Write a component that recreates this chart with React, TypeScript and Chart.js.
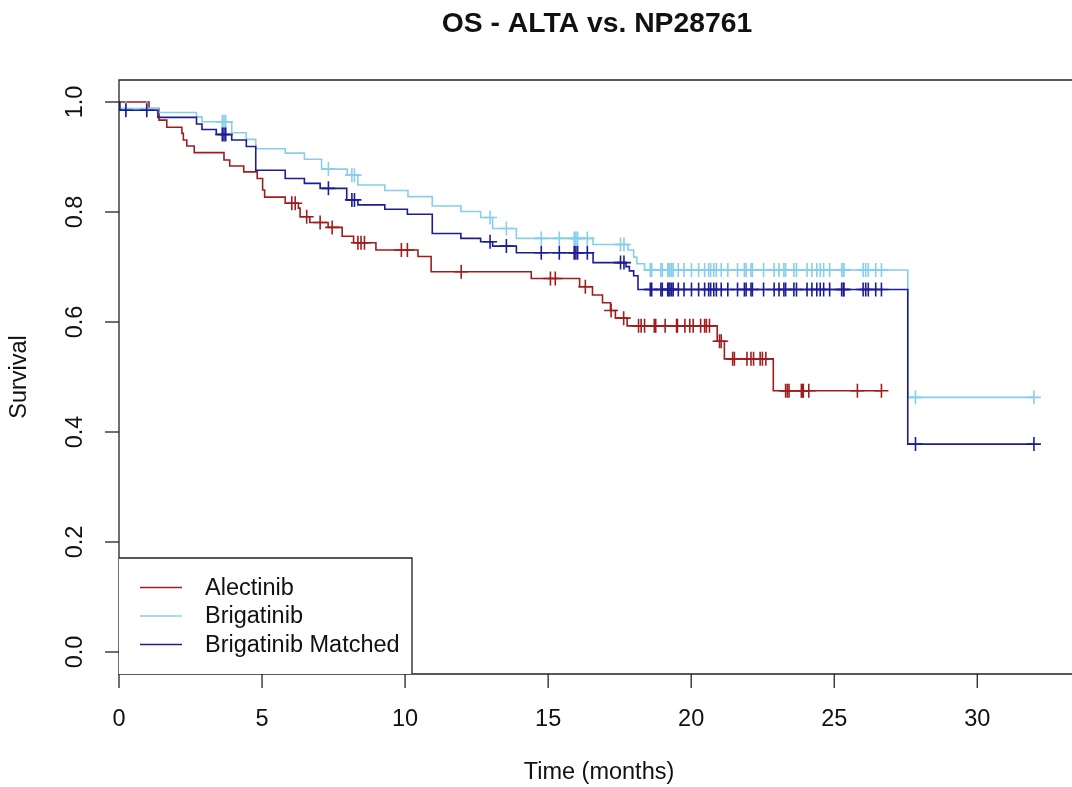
import { useEffect, useRef } from "react";
import { Chart, registerables } from "chart.js";

Chart.register(...registerables);

const FONT = '"Liberation Sans", Arial, Helvetica, sans-serif';

const chartTitle = "OS - ALTA vs. NP28761";
const xAxisTitle = "Time (months)";
const yAxisTitle = "Survival";
const xTicks = [0, 5, 10, 15, 20, 25, 30];
const yTicks = [0, 0.2, 0.4, 0.6, 0.8, 1.0];
const yTickLabels = ["0.0", "0.2", "0.4", "0.6", "0.8", "1.0"];
const seriesNames = ["Alectinib", "Brigatinib", "Brigatinib Matched"];
const seriesColors = ["#A11D1D", "#87CEEB", "#1C1C96"];

// Alectinib
const alecTimes = [0, 1.05, 1.4, 1.67, 2.2, 2.25, 2.37, 2.63, 3.67, 3.87, 4.36, 4.83, 5.02, 5.09, 5.81, 6.27, 6.33, 6.67, 7.31, 7.8, 8.2, 8.98, 10.45, 10.91, 14.41, 16.1, 16.55, 16.9, 17.18, 17.35, 17.76, 20.91, 21.16, 22.87];
const alecSurv = [1.0, 0.988, 0.967, 0.954, 0.943, 0.931, 0.92, 0.908, 0.8945, 0.8836, 0.873, 0.861, 0.84, 0.827, 0.816, 0.807, 0.7915, 0.781, 0.772, 0.756, 0.744, 0.731, 0.719, 0.6915, 0.679, 0.664, 0.649, 0.635, 0.621, 0.607, 0.593, 0.565, 0.533, 0.475];
const alecCensor = [6.04, 6.16, 6.56, 7.03, 7.45, 8.35, 8.46, 8.58, 9.87, 10.08, 11.96, 15.08, 15.25, 16.3, 17.2, 17.64, 18.16, 18.25, 18.37, 18.71, 18.76, 19.09, 19.49, 19.52, 19.78, 19.95, 20.07, 20.33, 20.47, 20.53, 20.64, 20.99, 21.05, 21.45, 21.51, 21.95, 22.09, 22.18, 22.41, 22.49, 22.61, 23.3, 23.36, 23.42, 23.85, 23.88, 23.92, 24.11, 25.81, 26.65];

// Brigatinib
const brigTimes = [0, 0.03, 1.39, 2.71, 2.9, 3.94, 4.45, 4.78, 5.81, 6.48, 7.08, 7.98, 8.35, 9.29, 10.1, 10.95, 11.95, 12.64, 13.06, 13.89, 16.57, 17.79, 17.99, 18.1, 18.37, 27.57];
const brigSurv = [1.0, 0.988, 0.981, 0.973, 0.964, 0.944, 0.932, 0.915, 0.907, 0.896, 0.878, 0.867, 0.849, 0.839, 0.828, 0.811, 0.801, 0.79, 0.77, 0.752, 0.741, 0.731, 0.718, 0.706, 0.6945, 0.463];

// Brigatinib Matched
const matchTimes = [0, 0.03, 1.36, 2.71, 2.9, 3.4, 3.94, 4.45, 4.78, 5.81, 6.48, 7.03, 7.96, 8.35, 9.29, 10.08, 10.95, 11.95, 12.64, 13.06, 13.89, 16.57, 17.72, 17.84, 17.99, 18.14, 27.57];
const matchSurv = [1.0, 0.985, 0.972, 0.96, 0.95, 0.941, 0.931, 0.919, 0.876, 0.861, 0.852, 0.843, 0.822, 0.813, 0.805, 0.796, 0.761, 0.752, 0.746, 0.738, 0.726, 0.708, 0.7006, 0.693, 0.684, 0.659, 0.378];

// shared censoring times of the Brigatinib cohorts
const brigCensor = [0.24, 0.97, 3.61, 3.67, 3.73, 7.32, 8.14, 8.23, 12.97, 13.54, 14.76, 15.39, 15.91, 15.97, 16.03, 16.37, 17.53, 17.65, 18.57, 18.62, 18.94, 18.99, 19.18, 19.22, 19.26, 19.32, 19.37, 19.55, 19.75, 20.01, 20.26, 20.47, 20.61, 20.68, 20.79, 20.88, 21.05, 21.28, 21.62, 21.86, 21.92, 22.09, 22.14, 22.53, 22.9, 23.07, 23.24, 23.3, 23.59, 23.68, 24.05, 24.22, 24.39, 24.51, 24.63, 24.84, 25.26, 25.32, 25.34, 26.01, 26.1, 26.19, 26.45, 26.65, 27.84, 31.98];

function survAt(times: number[], surv: number[], t: number) {
  let s = surv[0];
  for (let i = 0; i < times.length; i++) if (times[i] <= t) s = surv[i];
  return s;
}

function buildSeries(times: number[], surv: number[], censor: number[], color: string, order: number) {
  const end = Math.max(times[times.length - 1], censor[censor.length - 1]);
  const linePts = times.map((t, i) => ({ x: t, y: surv[i] }));
  linePts.push({ x: end, y: surv[surv.length - 1] });
  const censorPts = censor.map((t) => ({ x: t, y: survAt(times, surv, t) }));
  return [
    {
      type: "line" as const,
      data: linePts,
      borderColor: color,
      backgroundColor: color,
      borderWidth: 1.6,
      stepped: "before" as const,
      pointRadius: 0,
      fill: false,
      order: order,
    },
    {
      type: "scatter" as const,
      data: censorPts,
      borderColor: color,
      backgroundColor: color,
      pointStyle: "cross" as const,
      pointRadius: 7,
      borderWidth: 1.6,
      showLine: false,
      order: order,
    },
  ];
}

const framePlugin = {
  id: "rframe",
  afterDraw(chart: any) {
    const { ctx, chartArea } = chart;
    const xs = chart.scales.x;
    const ys = chart.scales.y;
    const { left, top, right, bottom } = chartArea;
    ctx.save();
    ctx.strokeStyle = "#222";
    ctx.lineWidth = 1.3;
    ctx.beginPath();
    ctx.moveTo(right + 10, top);
    ctx.lineTo(left, top);
    ctx.lineTo(left, bottom);
    ctx.lineTo(right + 10, bottom);
    ctx.stroke();

    // y ticks
    ctx.fillStyle = "#111";
    ctx.font = `23.5px ${FONT}`;
    yTicks.forEach((v, i) => {
      const y = ys.getPixelForValue(v);
      ctx.beginPath();
      ctx.moveTo(left - 14, y);
      ctx.lineTo(left, y);
      ctx.stroke();
      ctx.save();
      ctx.translate(left - 43, y);
      ctx.rotate(-Math.PI / 2);
      ctx.textAlign = "center";
      ctx.textBaseline = "middle";
      ctx.fillText(yTickLabels[i], 0, 0);
      ctx.restore();
    });
    // x ticks
    xTicks.forEach((v) => {
      const x = xs.getPixelForValue(v);
      ctx.beginPath();
      ctx.moveTo(x, bottom);
      ctx.lineTo(x, bottom + 14);
      ctx.stroke();
      ctx.textAlign = "center";
      ctx.textBaseline = "middle";
      ctx.fillText(String(v), x, bottom + 46);
    });

    // axis titles
    ctx.textAlign = "center";
    ctx.textBaseline = "middle";
    ctx.fillText(xAxisTitle, 599, 773);
    ctx.save();
    ctx.translate(20, (top + bottom) / 2);
    ctx.rotate(-Math.PI / 2);
    ctx.fillText(yAxisTitle, 0, 0);
    ctx.restore();

    // title
    ctx.font = `bold 28.3px ${FONT}`;
    ctx.fillText(chartTitle, 597, 24);

    // legend
    const lx0 = left, lx1 = 412, ly0 = 558, ly1 = bottom;
    ctx.fillStyle = "#fff";
    ctx.fillRect(lx0, ly0, lx1 - lx0, ly1 - ly0);
    ctx.strokeStyle = "#222";
    ctx.beginPath();
    ctx.moveTo(lx0, ly0);
    ctx.lineTo(lx1, ly0);
    ctx.lineTo(lx1, ly1);
    ctx.stroke();
    ctx.font = `23.5px ${FONT}`;
    ctx.textAlign = "left";
    const rows = [587.5, 616, 644.5];
    seriesNames.forEach((name, i) => {
      ctx.strokeStyle = seriesColors[i];
      ctx.lineWidth = 1.6;
      ctx.beginPath();
      ctx.moveTo(140, rows[i]);
      ctx.lineTo(182, rows[i]);
      ctx.stroke();
      ctx.fillStyle = "#111";
      ctx.fillText(name, 205, rows[i] + 1);
    });
    ctx.restore();
  },
};

export default function App() {
  const ref = useRef<HTMLCanvasElement | null>(null);
  useEffect(() => {
    if (!ref.current) return;
    const datasets = [
      ...buildSeries(alecTimes, alecSurv, alecCensor, seriesColors[0], 3),
      ...buildSeries(brigTimes, brigSurv, brigCensor, seriesColors[1], 2),
      ...buildSeries(matchTimes, matchSurv, brigCensor, seriesColors[2], 1),
    ];
    const chart = new Chart(ref.current, {
      type: "scatter",
      data: { datasets: datasets as any },
      options: {
        animation: false,
        responsive: false,
        devicePixelRatio: 1,
        layout: { padding: { left: 119, top: 80, right: 0, bottom: 113 } },
        plugins: { legend: { display: false }, tooltip: { enabled: false }, title: { display: false } },
        scales: {
          x: { type: "linear", min: 0, max: 33.01, display: false },
          y: { type: "linear", min: -0.04, max: 1.04, display: false },
        },
      },
      plugins: [framePlugin],
    });
    return () => chart.destroy();
  }, []);
  return (
    <div style={{ position: "absolute", left: 0, top: 0, width: 1072, height: 787, background: "#fff" }}>
      <canvas ref={ref} width={1072} height={787} />
    </div>
  );
}
